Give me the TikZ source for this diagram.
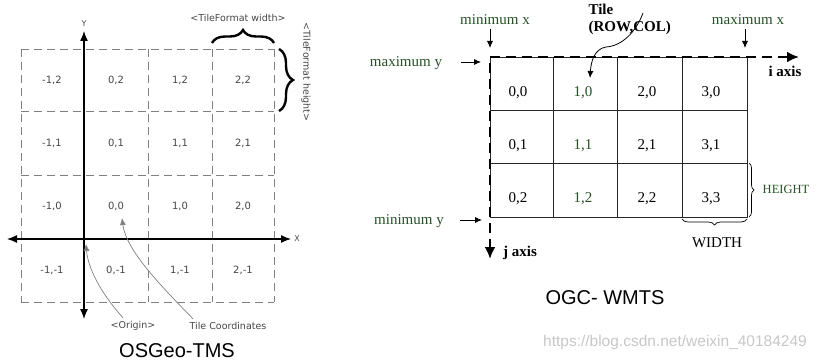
\documentclass[tikz,border=0pt]{standalone}
\usepackage{fontspec}
\setmainfont{Liberation Serif}
\newfontfamily\tmsfont{DejaVu Sans}
\newfontfamily\headfont{Liberation Sans}
\usetikzlibrary{decorations.pathreplacing,arrows.meta}
\definecolor{ogcgreen}{RGB}{38,80,38}
\definecolor{tmsgray}{RGB}{70,70,70}

\begin{document}
\begin{tikzpicture}[
  x=1pt,y=-1pt,
  tms/.style={font=\tmsfont\fontsize{10}{12}\selectfont,text=tmsgray},
  tmsnote/.style={font=\tmsfont\fontsize{9.5}{11}\selectfont,text=tmsgray},
  ogc/.style={font=\fontsize{15}{17}\selectfont},
  grn/.style={ogc,text=ogcgreen},
  title/.style={font=\headfont\fontsize{20}{24}\selectfont},
  tilegrid/.style={draw=gray,dash pattern=on 8pt off 5pt,line width=0.8pt},
  axisline/.style={draw,line width=1.3pt,{Latex[length=10pt,width=8pt]}-{Latex[length=10pt,width=8pt]}},
  pointer/.style={draw,line width=0.8pt,-{Latex[length=7pt,width=6pt]}},
  bigbrace/.style={draw,line width=2.4pt,decorate,decoration={brace,amplitude=#1}},
  thinbrace/.style={draw,line width=0.7pt,decorate,decoration={brace,amplitude=#1}}
  ]
  \useasboundingbox (0,0) rectangle (820,361);

  % OSGeo-TMS
  \path[tilegrid]
  (21,49) -- (274,49) (21,111) -- (274,111) (21,175) -- (274,175)
  (21,239) -- (274,239) (21,302) -- (274,302)
  (21,49) -- (21,302) (84,49) -- (84,302) (148,49) -- (148,302)
  (212,49) -- (212,302) (274,49) -- (274,302);

  \node[tms] (t01) at (52,80)  {-1,2};
  \node[tms] (t02) at (116,80) {0,2};
  \node[tms] (t03) at (180,80) {1,2};
  \node[tms] (t04) at (243,80) {2,2};
  \node[tms] (t05) at (52,143)  {-1,1};
  \node[tms] (t06) at (116,143) {0,1};
  \node[tms] (t07) at (180,143) {1,1};
  \node[tms] (t08) at (243,143) {2,1};
  \node[tms] (t09) at (52,206)  {-1,0};
  \node[tms] (t10) at (116,206) {0,0};
  \node[tms] (t11) at (180,206) {1,0};
  \node[tms] (t12) at (243,206) {2,0};
  \node[tms] (t13) at (52,270)  {-1,-1};
  \node[tms] (t14) at (116,270) {0,-1};
  \node[tms] (t15) at (180,270) {1,-1};
  \node[tms] (t16) at (243,270) {2,-1};

  \coordinate (ytop) at (84,31);
  \coordinate (ybot) at (84,319);
  \coordinate (xleft) at (7,239);
  \coordinate (xright) at (291,239);
  \coordinate (origin) at (86,244);
  \coordinate (tiletip) at (122,218);

  \path[axisline] (ytop) -- (ybot);
  \path[axisline] (xleft) -- (xright);
  \node[tmsnote,font=\tmsfont\fontsize{8}{9}\selectfont] (ylab) at (84,24) {Y};
  \node[tmsnote,font=\tmsfont\fontsize{8}{9}\selectfont] (xlab) at (297,239) {X};

  \path[bigbrace=13pt] (212,43) -- (274,43);
  \path[bigbrace=14pt] (279,49) -- (279,111);
  \node[tmsnote] (tfw) at (238,18) {<TileFormat width>};
  \node[tmsnote,rotate=-90] (tfh) at (306,72) {<TileFormat height>};

  \node[tmsnote] (orig) at (133,326) {<Origin>};
  \node[tmsnote] (tcoord) at (228,326) {Tile Coordinates};
  \path[pointer,draw=gray,line width=0.7pt]
  ([xshift=-10pt]orig.north) .. controls (100,292) and (88,268) .. (origin);
  \path[pointer,draw=gray,line width=0.7pt]
  ([xshift=-35pt]tcoord.north) .. controls (160,285) and (126,250) .. (tiletip);

  \node[title] (tms) at (177,351) {OSGeo-TMS};

  % OGC-WMTS
  \path[draw,line width=0.7pt,black!85]
  (490,57) rectangle (747,217)
  (553,57) -- (553,217) (617,57) -- (617,217) (682,57) -- (682,217)
  (490,110) -- (747,110) (490,163) -- (747,163);

  \node[ogc] (w01) at (518,93)  {0,0};
  \node[grn] (w02) at (583,93)  {1,0};
  \node[ogc] (w03) at (647,93)  {2,0};
  \node[ogc] (w04) at (711,93)  {3,0};
  \node[ogc] (w05) at (518,146) {0,1};
  \node[grn] (w06) at (583,146) {1,1};
  \node[ogc] (w07) at (647,146) {2,1};
  \node[ogc] (w08) at (711,146) {3,1};
  \node[ogc] (w09) at (518,199) {0,2};
  \node[grn] (w10) at (583,199) {1,2};
  \node[ogc] (w11) at (647,199) {2,2};
  \node[ogc] (w12) at (711,199) {3,3};

  \coordinate (corner) at (490,57);
  \coordinate (iend) at (799,57);
  \coordinate (jend) at (490,259);
  \path[draw,line width=2.6pt,dash pattern=on 10pt off 6pt,
    {Latex[length=12pt,width=11pt]}-{Latex[length=12pt,width=11pt]}]
  (iend) -- (corner) -- (jend);
  \node[ogc,font=\bfseries\fontsize{15}{17}\selectfont] (iax) at (785,71) {i axis};
  \node[ogc,font=\bfseries\fontsize{15}{17}\selectfont] (jax) at (520,253) {j axis};

  \node[grn] (minx) at (495,20) {minimum x};
  \node[grn] (maxx) at (748,20) {maximum x};
  \node[grn] (maxy) at (406,63) {maximum y};
  \node[grn] (miny) at (409,221) {minimum y};
  \coordinate (minxtip) at (490,48);
  \coordinate (maxxtip) at (745,48);
  \coordinate (maxytip) at (481,62);
  \coordinate (minytip) at (482,220);

  \path[pointer] (minxtip |- minx.south) -- (minxtip);
  \path[pointer] (maxxtip |- maxx.south) -- (maxxtip);
  \path[pointer] ([xshift=15pt]maxy.east |- maxytip) -- (maxytip);
  \path[pointer] ([xshift=13pt]miny.east |- minytip) -- (minytip);

  \node[ogc,font=\bfseries\fontsize{15}{17}\selectfont,align=left,anchor=west] (tile) at (585,19) {Tile\\(ROW,COL)};
  \coordinate (tilefrom) at (643,13);
  \coordinate (tileto) at (590,78);
  \path[pointer]
  (tilefrom) .. controls (636,32) and (622,46) .. (606,47)
  .. controls (594,49) and (591,62) .. (tileto);

  \path[thinbrace=5pt] (749,163) -- (749,217);
  \path[thinbrace=6pt] (747,219) -- (682,219);
  \node[grn,font=\fontsize{12.5}{15}\selectfont] (hgt) at (786,189) {HEIGHT};
  \node[ogc] (wdt) at (717,243) {WIDTH};

  \node[title] (wmts) at (605,298) {OGC- WMTS};
  \node[font=\headfont\fontsize{15.5}{18}\selectfont,text=black!22] (wm) at (675,342) {https://blog.csdn.net/weixin\_40184249};
\end{tikzpicture}
\end{document}
